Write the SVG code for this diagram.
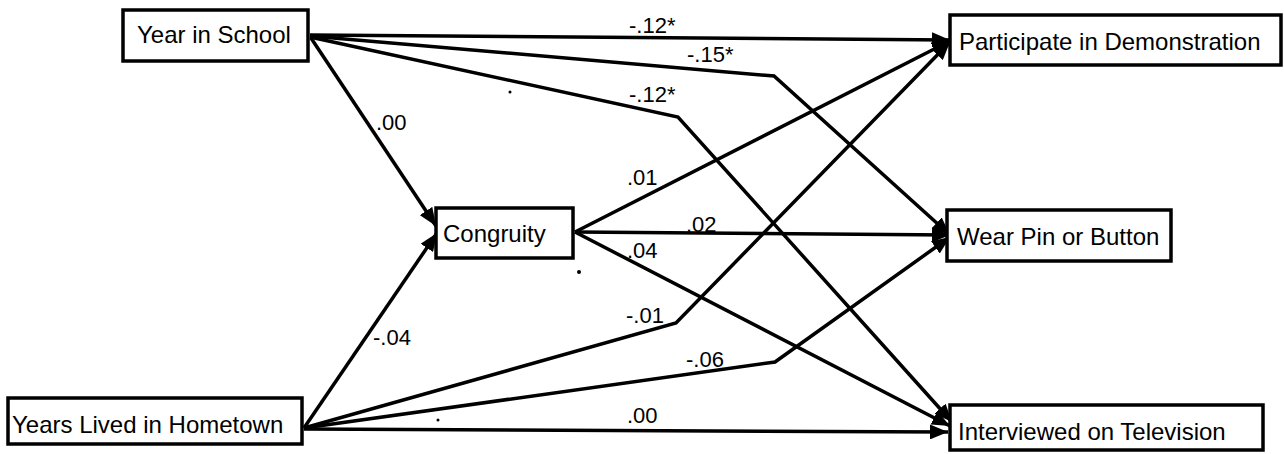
<svg xmlns="http://www.w3.org/2000/svg" width="1284" height="454" viewBox="0 0 1284 454">
<defs>
<marker id="arr" markerUnits="userSpaceOnUse" markerWidth="19" markerHeight="15" refX="18" refY="7.5" orient="auto">
<path d="M0,0 L18,7.5 L0,15 Z" fill="#000"/>
</marker>
<style>
.box{fill:#fff;stroke:#000;stroke-width:3.5}
.nt{font-family:"Liberation Sans",Arial,sans-serif;font-size:24px;fill:#000}
.lb{font-family:"Liberation Sans",Arial,sans-serif;font-size:22px;fill:#000}
.c{fill:none;stroke:#000;stroke-width:3.5;stroke-linejoin:miter;marker-end:url(#arr)}
</style>
</defs>
<rect width="1284" height="454" fill="#fff"/>
<g id="connectors">
<polyline class="c" points="310,35 950,40"/>
<polyline class="c" points="310,36 774,76 950,235"/>
<polyline class="c" points="310,37 678,117 952,422"/>
<polyline class="c" points="311,38 436,226"/>
<polyline class="c" points="304,428 437,233"/>
<polyline class="c" points="304,428 676,323 950,42"/>
<polyline class="c" points="304,428 775,362 950,237"/>
<polyline class="c" points="304,429 948,432"/>
<polyline class="c" points="575,232 950,41"/>
<polyline class="c" points="575,232 950,235"/>
<polyline class="c" points="575,232 950,426"/>
<text class="lb" x="629" y="33">-.12*</text>
<text class="lb" x="687" y="62">-.15*</text>
<text class="lb" x="629" y="102">-.12*</text>
<text class="lb" x="376" y="130">.00</text>
<text class="lb" x="627" y="185">.01</text>
<text class="lb" x="686" y="232">.02</text>
<text class="lb" x="627" y="258">.04</text>
<text class="lb" x="373" y="345">-.04</text>
<text class="lb" x="626" y="323">-.01</text>
<text class="lb" x="686" y="367">-.06</text>
<text class="lb" x="627" y="423">.00</text>
<circle cx="510" cy="92" r="1.5" fill="#000"/>
<circle cx="579" cy="272" r="2" fill="#000"/>
<circle cx="438" cy="420" r="1.5" fill="#000"/>
</g>
<g id="year-in-school">
<rect class="box" x="123" y="10" width="185" height="51"/>
<text class="nt" x="137" y="43">Year in School</text>
</g>
<g id="years-lived">
<rect class="box" x="8" y="398" width="294" height="46"/>
<text class="nt" x="12" y="433">Years Lived in Hometown</text>
</g>
<g id="congruity">
<rect class="box" x="436" y="208" width="137" height="50"/>
<text class="nt" x="443" y="242">Congruity</text>
</g>
<g id="participate">
<rect class="box" x="950" y="15" width="331" height="50"/>
<text class="nt" x="959" y="50">Participate in Demonstration</text>
</g>
<g id="wear-pin">
<rect class="box" x="947" y="210" width="224" height="51"/>
<text class="nt" x="957" y="245">Wear Pin or Button</text>
</g>
<g id="interviewed">
<rect class="box" x="950" y="405" width="313" height="45"/>
<text class="nt" x="958" y="440">Interviewed on Television</text>
</g>
</svg>
